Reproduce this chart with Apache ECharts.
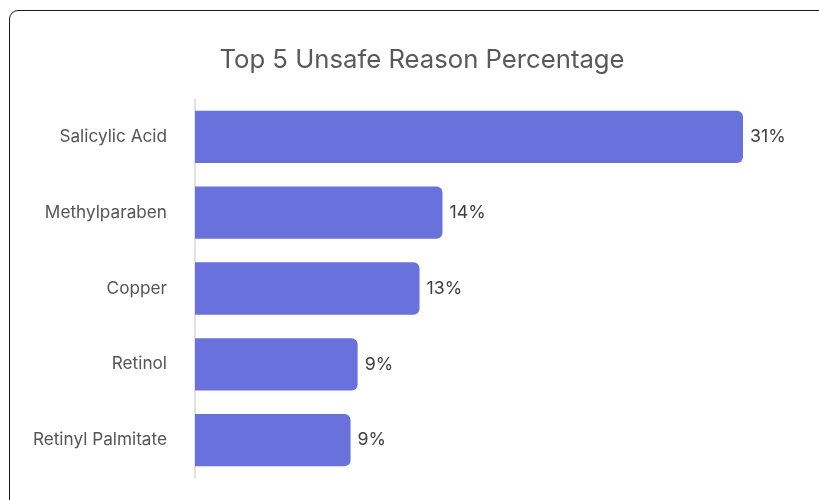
<!DOCTYPE html>
<html><head><meta charset="utf-8">
<script src="https://cdn.jsdelivr.net/npm/echarts@6/dist/echarts.min.js"></script>
<style>
html,body{margin:0;padding:0;width:819px;height:500px;overflow:hidden;background:#fff;}
#frame{position:absolute;left:9px;top:10px;width:900px;height:600px;border:1.5px solid #1a1a1a;border-radius:9px;box-sizing:border-box;}
#c{position:absolute;left:0;top:0;width:819px;height:500px;}
</style></head>
<body>
<div id="frame"></div>
<div id="c"></div>
<script>
const categories = ["Salicylic Acid", "Methylparaben", "Copper", "Retinol", "Retinyl Palmitate"];
const values = [31.0, 14.0, 12.7, 9.2, 8.8];
const titleText = "Top 5 Unsafe Reason Percentage";

const chart = echarts.init(document.getElementById('c'), null, {renderer: 'canvas'});
chart.setOption({
  animation: false,
  title: {
    text: titleText,
    left: 417, top: 42, textAlign: 'center',
    textStyle: {fontFamily: 'Inter, "Noto Sans", sans-serif', fontSize: 25.7, fontWeight: 'normal', color: '#595959'}
  },
  grid: {left: 195, right: 76, top: 99, bottom: 22, containLabel: false},
  xAxis: {
    type: 'value', min: 0, max: 31, show: false
  },
  yAxis: {
    type: 'category', data: categories, inverse: true,
    axisLine: {show: true, lineStyle: {color: '#d9d9d9', width: 1.5}},
    axisTick: {show: false},
    axisLabel: {margin: 28, fontSize: 17.2, color: '#555555', fontFamily: 'Inter, "Noto Sans", sans-serif'}
  },
  series: [{
    type: 'bar', data: values, barCategoryGap: '31%',
    itemStyle: {color: '#6871DC', borderRadius: [0, 6, 6, 0]},
    label: {
      show: true, position: 'right', distance: 7,
      formatter: p => Math.round(p.value) + '%',
      fontSize: 17.8, color: '#404040', fontFamily: 'Inter, "Noto Sans", sans-serif'
    }
  }]
});
</script>
</body></html>
